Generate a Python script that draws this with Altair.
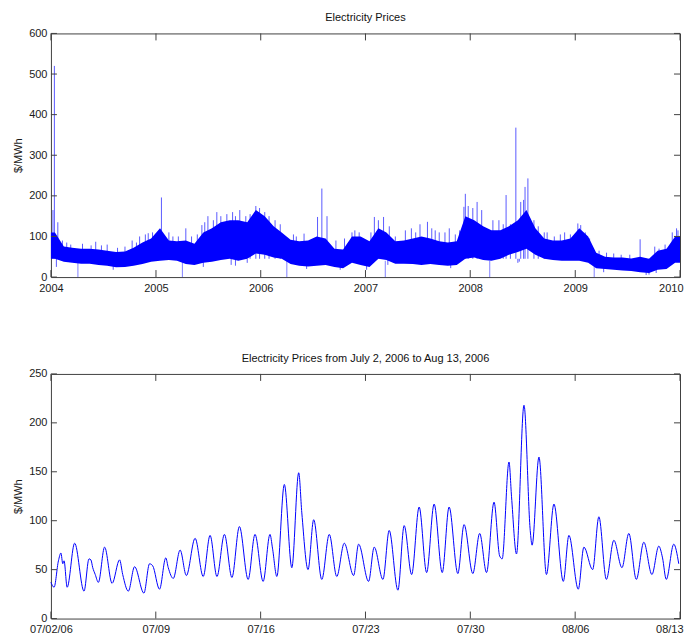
import altair as alt
import pandas as pd

FONT = "Liberation Sans, Arial, sans-serif"
BLUE = "#0000ff"
FRAME = "#404040"

# ---------------- top panel: 2004-2009, monthly envelope of hourly prices ----------------
band_high = [110, 75, 72, 70, 70, 68, 65, 62, 63, 72, 85, 95,
             120, 90, 88, 90, 82, 110, 120, 135, 140, 140, 135, 165,
             150, 125, 110, 92, 88, 90, 100, 95, 70, 68, 100, 100,
             88, 120, 110, 88, 90, 95, 100, 95, 88, 85, 88, 150,
             140, 125, 115, 115, 125, 140, 165, 120, 95, 90, 90, 95,
             120, 100, 60, 50, 48, 48, 46, 50, 45, 65, 70, 100]
band_low = [45, 38, 35, 33, 33, 30, 28, 24, 25, 28, 32, 38,
            40, 42, 40, 32, 30, 35, 38, 42, 45, 40, 45, 58,
            55, 48, 45, 32, 28, 26, 28, 30, 25, 22, 35, 30,
            25, 45, 42, 33, 33, 32, 30, 32, 30, 28, 30, 45,
            48, 42, 40, 45, 55, 62, 70, 55, 45, 42, 40, 40,
            40, 35, 22, 20, 18, 16, 15, 12, 10, 18, 20, 35]

# price spikes that stick out above the band
spike_dates = ["2004-01-08", "2004-01-13", "2004-01-25", "2004-02-10", "2004-02-25", "2004-03-10",
               "2004-04-20", "2004-05-20", "2004-06-05", "2004-06-25", "2004-07-15", "2004-08-20",
               "2004-09-15", "2004-10-10", "2004-10-25", "2004-11-05", "2004-11-25", "2004-12-05",
               "2004-12-20",
               "2005-01-20", "2005-02-15", "2005-03-01", "2005-03-20", "2005-04-15", "2005-05-05",
               "2005-05-25", "2005-06-10", "2005-06-20", "2005-07-01", "2005-07-20", "2005-08-01",
               "2005-08-15", "2005-09-05", "2005-09-25", "2005-10-05", "2005-10-20", "2005-11-10",
               "2005-11-25", "2005-12-15", "2005-12-28",
               "2006-01-15", "2006-01-30", "2006-02-20", "2006-03-10", "2006-04-25", "2006-05-05",
               "2006-06-01", "2006-07-18", "2006-08-02", "2006-08-20", "2006-09-20", "2006-10-20",
               "2006-11-15", "2006-11-25", "2006-12-10",
               "2007-01-20", "2007-02-01", "2007-02-15", "2007-03-05", "2007-03-25", "2007-04-15",
               "2007-05-20", "2007-06-10", "2007-06-25", "2007-07-10", "2007-08-05", "2007-08-20",
               "2007-09-01", "2007-09-15", "2007-10-05", "2007-10-20", "2007-11-10", "2007-11-25",
               "2007-12-10", "2007-12-15", "2007-12-25",
               "2008-01-10", "2008-01-25", "2008-02-10", "2008-03-20", "2008-04-10", "2008-04-25",
               "2008-05-05", "2008-05-20", "2008-06-08", "2008-06-25", "2008-07-05", "2008-07-10",
               "2008-07-20", "2008-08-10", "2008-08-25", "2008-09-15", "2008-09-25", "2008-10-20",
               "2008-11-10", "2008-11-25", "2008-12-15",
               "2009-01-10", "2009-01-20", "2009-02-05", "2009-02-20", "2009-03-25", "2009-04-20",
               "2009-05-15", "2009-06-10", "2009-07-10", "2009-08-15", "2009-10-05", "2009-10-20",
               "2009-11-10", "2009-11-25", "2009-12-05", "2009-12-20", "2009-12-25"]
spike_values = [165, 520, 135, 90, 85, 80,
                82, 78, 87, 78, 80, 72,
                75, 90, 85, 100, 105, 108,
                110,
                196, 110, 100, 100, 120, 100,
                105, 128, 135, 150, 140, 160,
                150, 155, 160, 150, 165, 150,
                155, 175, 170,
                160, 150, 140, 130, 105, 100,
                107, 148, 218, 150, 90, 95,
                110, 115, 110,
                110, 148, 140, 148, 125, 100,
                115, 120, 110, 130, 136, 120,
                115, 110, 110, 120, 105, 115,
                173, 205, 175,
                170, 185, 165, 140, 140, 130,
                202, 130, 368, 185, 190, 222,
                243, 140, 125, 110, 110, 100,
                105, 110, 105,
                132, 128, 110, 95, 65, 60,
                58, 55, 55, 93, 75, 70,
                80, 68, 110, 120, 115]

# dips that reach below the band
dip_dates = ["2004-01-20", "2004-08-05", "2005-06-15", "2005-09-20", "2005-10-05", "2005-11-15",
             "2006-06-10", "2006-10-05", "2007-01-05", "2007-03-20", "2007-10-25", "2008-06-15",
             "2008-06-20", "2008-08-20", "2009-04-10", "2009-09-05", "2009-09-15", "2009-10-10"]
dip_values = [25, 18, 25, 30, 28, 35,
              20, 18, 18, 30, 22, 35,
              38, 45, 12, 5, 6, 10]

# hours where the price series drops to zero (clock change)
dst_dates = ["2004-04-04", "2005-04-03", "2006-04-02", "2007-03-11", "2008-03-09", "2009-03-08"]

year_ticks = [2004, 2005, 2006, 2007, 2008, 2009, 2010]
top_price_ticks = [0, 100, 200, 300, 400, 500, 600]

# ---------------- bottom panel: July 2 - Aug 13, 2006 (day offset, hour) ----------------
zoom_day_hour = [
    (0, 0), (0, 5), (0, 12), (0, 16), (0, 19), (0, 21),
    (1, 2), (1, 14), (2, 5), (2, 13), (2, 16), (2, 19), (2, 23),
    (3, 4), (3, 14), (4, 2), (4, 14), (4, 19), (5, 4), (5, 14),
    (6, 5), (6, 14), (6, 19), (7, 6), (7, 16), (7, 20), (8, 4), (8, 15),
    (9, 1), (9, 15), (10, 4), (10, 15), (11, 2), (11, 14), (12, 2), (12, 14),
    (13, 4), (13, 15), (14, 4), (14, 15), (14, 19), (15, 2), (15, 14),
    (16, 2), (16, 13), (16, 18), (17, 4), (17, 13), (18, 2), (18, 14),
    (19, 2), (19, 14), (20, 5), (20, 13), (21, 5), (21, 14), (22, 4), (22, 14),
    (23, 4), (23, 14), (24, 2), (24, 14), (25, 2), (25, 14), (26, 3), (26, 14),
    (27, 4), (27, 14), (28, 4), (28, 15), (29, 2), (29, 14), (29, 23), (30, 3),
    (30, 14), (30, 18), (31, 2), (31, 14), (32, 0), (32, 3), (32, 14),
    (33, 2), (33, 14), (34, 5), (34, 14), (35, 5), (35, 14), (36, 4), (36, 14),
    (37, 2), (37, 14), (38, 3), (38, 14), (39, 2), (39, 14), (40, 3), (40, 14),
    (40, 20), (41, 2), (41, 14), (41, 22)]
zoom_prices = [
    37, 32, 59, 67, 56, 59,
    32, 77, 28, 61, 60, 52, 45,
    37, 73, 36, 60, 45, 28, 53,
    26, 56, 54, 30, 62, 52, 41, 70,
    44, 82, 43, 85, 43, 86, 42, 94,
    40, 86, 38, 86, 72, 43, 137,
    52, 149, 108, 50, 101, 40, 86,
    43, 77, 44, 76, 38, 73, 40, 90,
    29, 95, 45, 114, 47, 117, 47, 114,
    46, 96, 46, 87, 47, 119, 64, 61,
    160, 125, 66, 218, 90, 75, 165,
    45, 117, 38, 85, 30, 73, 50, 104,
    40, 80, 52, 87, 40, 78, 45, 74,
    62, 40, 76, 56]
zoom_day_ticks = ["2006-07-02", "2006-07-09", "2006-07-16", "2006-07-23",
                  "2006-07-30", "2006-08-06", "2006-08-13"]
zoom_price_ticks = [0, 50, 100, 150, 200, 250]

# ---------------- tables ----------------
mid = list(pd.date_range("2004-01-01", periods=len(band_high), freq="MS") + pd.Timedelta(days=14))
band = pd.DataFrame({
    "date": [pd.Timestamp("2004-01-01")] + mid + [pd.Timestamp("2010-01-01")],
    "low": [band_low[0]] + band_low + [band_low[-1]],
    "high": [band_high[0]] + band_high + [band_high[-1]],
})
spikes = pd.DataFrame({"date": pd.to_datetime(spike_dates), "value": spike_values})
dips = pd.DataFrame({"date": pd.to_datetime(dip_dates), "value": dip_values})
drops = pd.DataFrame({"date": pd.to_datetime(dst_dates), "value": [0] * len(dst_dates)})
yticks_top = pd.DataFrame({"date": [pd.Timestamp(f"{y}-01-01") for y in year_ticks]})
pticks_top = pd.DataFrame({"value": top_price_ticks})

start = pd.Timestamp("2006-07-02")
zoom = pd.DataFrame({
    "date": [start + pd.Timedelta(days=d, hours=h) for d, h in zoom_day_hour],
    "value": zoom_prices,
})
dticks = pd.DataFrame({"date": pd.to_datetime(zoom_day_ticks)})
pticks_bot = pd.DataFrame({"value": zoom_price_ticks})

W = 630
H1 = 244
H2 = 245
TL = 7

def dt(s):
    t = pd.Timestamp(s)
    return alt.DateTime(year=t.year, month=t.month, date=t.day)

LAST_RIGHT = {"condition": {"test": "datum.index == 1", "value": "right"}, "value": "center"}
LAST_OFF = {"condition": {"test": "datum.index == 1", "value": 3}, "value": 0}

def x_top(field="date"):
    return alt.X(f"{field}:T",
                 scale=alt.Scale(domain=[dt("2004-01-01"), dt("2010-01-01")]),
                 axis=alt.Axis(values=[dt(f"{y}-01-01") for y in year_ticks],
                               format="%Y", title=None, labelPadding=5, labelFlush=False,
                               labelAlign=LAST_RIGHT, labelOffset=LAST_OFF))

def y_top(field="value"):
    return alt.Y(f"{field}:Q", scale=alt.Scale(domain=[0, 600], nice=False),
                 axis=alt.Axis(values=top_price_ticks, title="$/MWh", titlePadding=5,
                               labelPadding=4),
                 title="$/MWh")

top_band = alt.Chart(band).mark_area(color=BLUE, opacity=1).encode(
    x=x_top(), y=y_top("low"), y2="high:Q")
top_spikes = alt.Chart(spikes).mark_rule(color=BLUE, opacity=0.65, strokeWidth=1).encode(
    x=x_top(), y=y_top("value"), y2=alt.datum(45))
top_dips = alt.Chart(dips).mark_rule(color=BLUE, opacity=0.65, strokeWidth=1).encode(
    x=x_top(), y=y_top("value"), y2=alt.datum(45))
top_drops = alt.Chart(drops).mark_rule(color=BLUE, opacity=0.5, strokeWidth=1).encode(
    x=x_top(), y=y_top("value"), y2=alt.datum(40))
top_xt_b = alt.Chart(yticks_top).mark_rule(color=FRAME).encode(
    x=x_top(), y=alt.value(H1), y2=alt.value(H1 - TL))
top_xt_t = alt.Chart(yticks_top).mark_rule(color=FRAME).encode(
    x=x_top(), y=alt.value(0), y2=alt.value(TL))
top_yt_l = alt.Chart(pticks_top).mark_rule(color=FRAME).encode(
    y=y_top("value"), x=alt.value(0), x2=alt.value(6))
top_yt_r = alt.Chart(pticks_top).mark_rule(color=FRAME).encode(
    y=y_top("value"), x=alt.value(W), x2=alt.value(W - 6))

top = alt.layer(top_band, top_spikes, top_dips, top_drops,
                top_xt_b, top_xt_t, top_yt_l, top_yt_r).properties(
    width=W, height=H1,
    title=alt.TitleParams("Electricity Prices", fontSize=11, font=FONT,
                          fontWeight="normal", color="#111", offset=4))

def x_bot(field="date"):
    return alt.X(f"{field}:T",
                 scale=alt.Scale(domain=[dt("2006-07-02"), dt("2006-08-13")]),
                 axis=alt.Axis(values=[dt(s) for s in zoom_day_ticks],
                               labelExpr="datum.index == 0 ? '07/02/06' : timeFormat(datum.value, '%m/%d')",
                               title=None, labelPadding=5, labelFlush=False,
                               labelAlign=LAST_RIGHT, labelOffset=LAST_OFF))

def y_bot(field="value"):
    return alt.Y(f"{field}:Q", scale=alt.Scale(domain=[0, 250], nice=False),
                 axis=alt.Axis(values=zoom_price_ticks, title="$/MWh", titlePadding=5,
                               labelPadding=4),
                 title="$/MWh")

bot_line = alt.Chart(zoom).mark_line(color=BLUE, strokeWidth=1, interpolate="monotone").encode(
    x=x_bot(), y=y_bot())
bot_xt_b = alt.Chart(dticks).mark_rule(color=FRAME).encode(
    x=x_bot(), y=alt.value(H2), y2=alt.value(H2 - TL))
bot_xt_t = alt.Chart(dticks).mark_rule(color=FRAME).encode(
    x=x_bot(), y=alt.value(0), y2=alt.value(TL))
bot_yt_l = alt.Chart(pticks_bot).mark_rule(color=FRAME).encode(
    y=y_bot(), x=alt.value(0), x2=alt.value(6))
bot_yt_r = alt.Chart(pticks_bot).mark_rule(color=FRAME).encode(
    y=y_bot(), x=alt.value(W), x2=alt.value(W - 6))

bottom = alt.layer(bot_line, bot_xt_b, bot_xt_t, bot_yt_l, bot_yt_r).properties(
    width=W, height=H2,
    title=alt.TitleParams("Electricity Prices from July 2, 2006 to Aug 13, 2006", fontSize=11,
                          font=FONT, fontWeight="normal", color="#111", offset=4))

chart = alt.vconcat(top, bottom, spacing=58).properties(
    padding={"left": 4, "top": 3, "right": 0, "bottom": 0},
    background="white",
).configure_view(
    stroke=FRAME, strokeWidth=1
).configure_axis(
    domain=False, ticks=False, tickSize=0, grid=False,
    labelFont=FONT, labelFontSize=11, labelColor="#1a1a1a",
    titleFont=FONT, titleFontSize=11, titleFontWeight="normal", titleColor="#1a1a1a"
)

chart.save("out.html", embed_options={"renderer": "svg", "actions": False})
